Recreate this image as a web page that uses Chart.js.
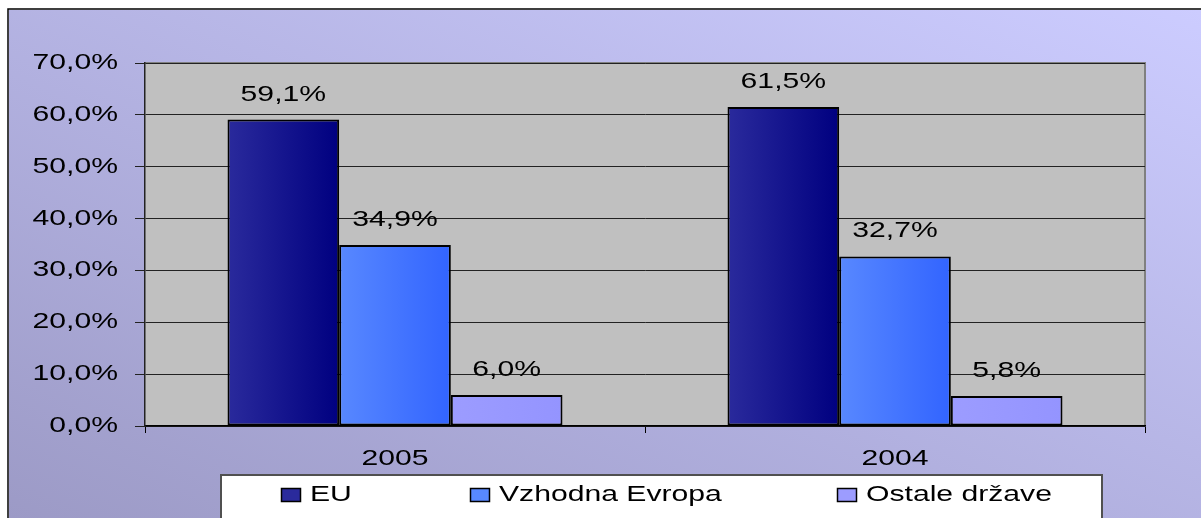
<!DOCTYPE html>
<html>
<head>
<meta charset="utf-8">
<script src="https://cdn.jsdelivr.net/npm/chart.js@4/dist/chart.umd.min.js"></script>
<style>
  html, body { margin: 0; padding: 0; background: #fff; }
  canvas { display: block; }
</style>
</head>
<body>
<canvas id="myChart" width="1201" height="518"></canvas>
<script>
// data
const years = ["2005", "2004"];
const seriesNames = ["EU", "Vzhodna Evropa", "Ostale države"];
const euValues = [59.1, 61.5];
const eastValues = [34.9, 32.7];
const otherValues = [6.0, 5.8];
const yTicks = [0, 10, 20, 30, 40, 50, 60, 70];

const catPct = 0.67;
// the original picture is stretched sideways, so is its text
const STRETCH = 1.37;
const FONT = "22px 'Liberation Sans'";

// left/right colours of each bar gradient
const barColors = [
  ["#2a2a9c", "#000080"],
  ["#5888ff", "#3264ff"],
  ["#9c9cff", "#9494ff"],
];

function fmt(v) {
  return v.toFixed(1).replace(".", ",") + "%";
}

function wideText(c, text, x, y, align) {
  c.save();
  c.translate(x, y);
  c.scale(STRETCH, 1);
  c.textAlign = align;
  c.fillText(text, 0, 0);
  c.restore();
}

function barFill(context) {
  const chart = context.chart;
  const pair = barColors[context.datasetIndex];
  const area = chart.chartArea;
  const xs = chart.scales.x;
  if (!area || !xs || context.type !== "data") return pair[0];
  const cw = (area.right - area.left) / years.length * catPct;
  const bw = cw / seriesNames.length;
  const x0 = xs.getPixelForValue(context.dataIndex) - cw / 2 + context.datasetIndex * bw;
  const g = chart.ctx.createLinearGradient(x0, 0, x0 + bw, 0);
  g.addColorStop(0, pair[0]);
  g.addColorStop(1, pair[1]);
  return g;
}

// page background + frame
const backdrop = {
  id: "backdrop",
  beforeDraw(chart) {
    const c = chart.ctx;
    const w = chart.width, h = chart.height;
    c.save();
    // diagonal gradient in box space: dark bottom-left, light top-right
    c.save();
    c.translate(9, 10);
    c.scale(w - 9, h - 10);
    const g = c.createLinearGradient(0, 1, 1, 0);
    g.addColorStop(0, "#9c9ac6");
    g.addColorStop(1, "#ccccff");
    c.fillStyle = g;
    c.fillRect(0, 0, 1, 1);
    c.restore();
    c.strokeStyle = "#000";
    c.lineWidth = 1.5;
    c.beginPath();
    c.moveTo(8, h);
    c.lineTo(8, 9);
    c.lineTo(w, 9);
    c.stroke();
    // plot area
    const a = chart.chartArea;
    c.fillStyle = "#c0c0c0";
    c.fillRect(a.left, a.top, a.right - a.left, a.bottom - a.top);
    c.strokeStyle = "#808080";
    c.lineWidth = 2;
    c.beginPath();
    c.moveTo(a.left, a.top);
    c.lineTo(a.right, a.top);
    c.lineTo(a.right, a.bottom);
    c.stroke();
    c.restore();
  },
};

// axis labels
const wideTicks = {
  id: "wideTicks",
  afterDraw(chart) {
    const c = chart.ctx;
    const ys = chart.scales.y;
    const xs = chart.scales.x;
    c.save();
    c.fillStyle = "#000";
    c.font = FONT;
    c.textBaseline = "middle";
    ys.ticks.forEach((t, i) => {
      wideText(c, fmt(t.value), ys.right - 27, ys.getPixelForTick(i), "right");
    });
    xs.ticks.forEach((t, i) => {
      wideText(c, xs.getLabelForValue(t.value), xs.getPixelForTick(i), xs.top + 33, "center");
    });
    c.restore();
  },
};

// value labels above the bars
const valueLabels = {
  id: "valueLabels",
  afterDatasetsDraw(chart) {
    const c = chart.ctx;
    c.save();
    c.fillStyle = "#000";
    c.font = FONT;
    c.textBaseline = "middle";
    chart.data.datasets.forEach((ds, i) => {
      chart.getDatasetMeta(i).data.forEach((bar, j) => {
        wideText(c, fmt(ds.data[j]), bar.x, bar.y - 25, "center");
      });
    });
    c.restore();
  },
};

// boxed legend at the bottom
const boxLegend = {
  id: "boxLegend",
  afterDraw(chart) {
    const c = chart.ctx;
    const itemX = [281, 470, 837];
    c.save();
    c.fillStyle = "#fff";
    c.fillRect(220, 474, 882, 50);
    c.strokeStyle = "#505050";
    c.lineWidth = 2;
    c.strokeRect(221, 475, 881, 50);
    c.font = FONT;
    c.textBaseline = "middle";
    chart.data.datasets.forEach((ds, i) => {
      const x = itemX[i];
      c.fillStyle = barColors[i][0];
      c.fillRect(x, 488, 19, 13);
      c.strokeStyle = "#000";
      c.lineWidth = 1.5;
      c.strokeRect(x + 0.5, 488.5, 19, 13);
      c.fillStyle = "#000";
      wideText(c, ds.label, x + 29, 495, "left");
    });
    c.restore();
  },
};

const ctx = document.getElementById("myChart").getContext("2d");

const myChart = new Chart(ctx, {
  type: "bar",
  data: {
    labels: years,
    datasets: [
      { label: seriesNames[0], data: euValues },
      { label: seriesNames[1], data: eastValues },
      { label: seriesNames[2], data: otherValues },
    ].map((d) => ({
      ...d,
      backgroundColor: barFill,
      borderColor: "#000",
      borderWidth: 2,
      borderSkipped: false,
      categoryPercentage: catPct,
      barPercentage: 1,
    })),
  },
  options: {
    responsive: false,
    animation: false,
    layout: {
      padding: { top: 63, right: 56, left: 0, bottom: 0 },
    },
    plugins: {
      legend: { display: false },
      tooltip: { enabled: false },
    },
    scales: {
      x: {
        afterFit: (scale) => {
          scale.height = 92;
        },
        grid: {
          drawOnChartArea: false,
          drawTicks: true,
          tickLength: 7,
          color: "#000",
        },
        border: { color: "#000", width: 1.5 },
        ticks: { display: false },
      },
      y: {
        min: 0,
        max: yTicks[yTicks.length - 1],
        afterFit: (scale) => {
          scale.width = 145;
        },
        afterBuildTicks: (scale) => {
          scale.ticks = yTicks.map((v) => ({ value: v }));
        },
        grid: {
          color: "#222",
          lineWidth: 1,
          drawTicks: true,
          tickLength: 10,
        },
        border: { color: "#222", width: 1.5 },
        ticks: { display: false },
      },
    },
  },
  plugins: [backdrop, valueLabels, wideTicks, boxLegend],
});
</script>
</body>
</html>
